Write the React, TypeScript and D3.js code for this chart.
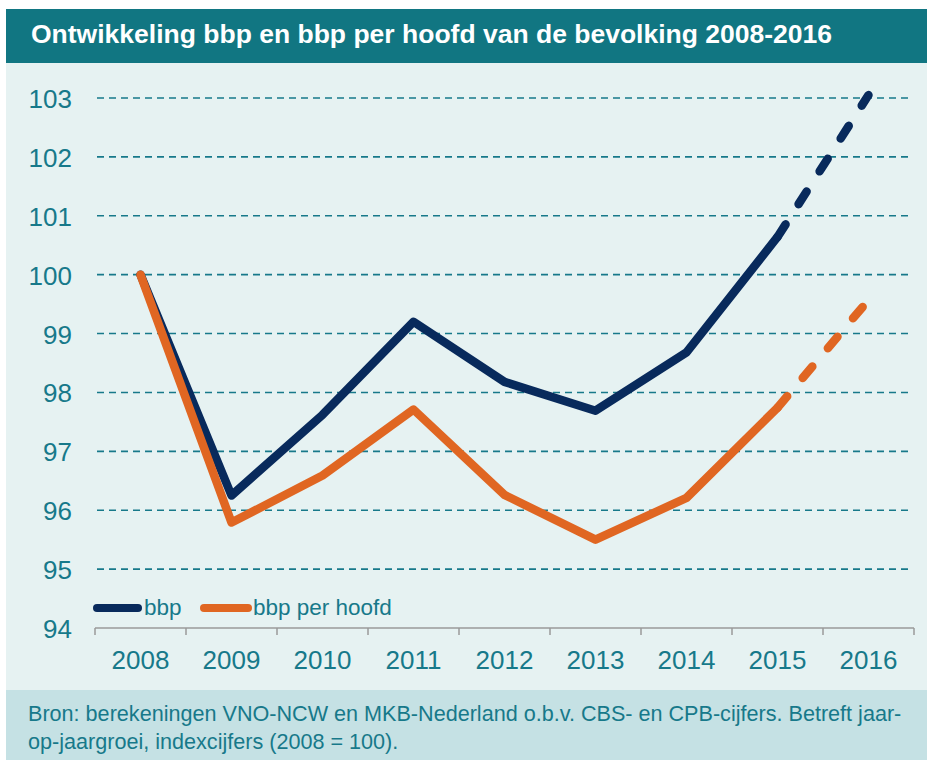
import React from "react";
import * as d3 from "d3";

const years = ["2008", "2009", "2010", "2011", "2012", "2013", "2014", "2015", "2016"];
const bbp = [100, 96.25, 97.62, 99.2, 98.18, 97.69, 98.68, 100.64, 103.05];
const bbpPerHoofd = [100, 95.79, 96.59, 97.71, 96.26, 95.5, 96.21, 97.74, 99.57];
const yTicks = [94, 95, 96, 97, 98, 99, 100, 101, 102, 103];
const solidUntil = "2015";

const W = 927;
const H = 760;
const margin = { top: 98, right: 13, bottom: 132, left: 95 };
const teal = "#17798a";
const navy = "#082a5c";
const orange = "#e06622";
const font = "Liberation Sans, Arial, sans-serif";

export default function App() {
  const x = d3.scaleBand().domain(years).range([margin.left, W - margin.right]);
  const y = d3.scaleLinear().domain([94, 103]).range([H - margin.bottom, margin.top]);
  const cx = (yr: string) => (x(yr) as number) + x.bandwidth() / 2;
  const line = d3
    .line<[string, number]>()
    .x((d) => cx(d[0]))
    .y((d) => y(d[1]));

  const cut = years.indexOf(solidUntil);
  const series = [
    { name: "bbp", values: bbp, color: navy },
    { name: "bbp per hoofd", values: bbpPerHoofd, color: orange },
  ];

  return (
    <svg width={W} height={H} style={{ position: "absolute", left: 0, top: 0 }}>
      <rect x={6} y={9} width={W - 6} height={54} fill="#117682" />
      <text x={31} y={43} fill="#fff" fontFamily={font} fontWeight="bold" fontSize={26.5}>
        Ontwikkeling bbp en bbp per hoofd van de bevolking 2008-2016
      </text>
      <rect x={6} y={63} width={W - 6} height={627} fill="#e6f2f2" />
      <rect x={6} y={690} width={W - 6} height={70} fill="#c5e1e4" />

      {yTicks.map((t) => (
        <g key={t}>
          {t > 94 && (
            <line
              x1={margin.left + 2}
              x2={W - margin.right - 2}
              y1={y(t)}
              y2={y(t)}
              stroke={teal}
              strokeWidth={1.6}
              strokeDasharray="7 5"
            />
          )}
          <text
            x={72}
            y={y(t) + 10}
            textAnchor="end"
            fill={teal}
            fontFamily={font}
            fontSize={26}
          >
            {t}
          </text>
        </g>
      ))}

      <line
        x1={margin.left}
        x2={W - margin.right}
        y1={y(94)}
        y2={y(94)}
        stroke="#9a9a9a"
        strokeWidth={1.5}
      />
      {years.map((yr) => (
        <line
          key={"t" + yr}
          x1={x(yr)}
          x2={x(yr)}
          y1={y(94)}
          y2={y(94) + 7}
          stroke="#9a9a9a"
          strokeWidth={1.5}
        />
      ))}
      <line
        x1={W - margin.right}
        x2={W - margin.right}
        y1={y(94)}
        y2={y(94) + 7}
        stroke="#9a9a9a"
        strokeWidth={1.5}
      />
      {years.map((yr) => (
        <text
          key={"l" + yr}
          x={cx(yr)}
          y={669}
          textAnchor="middle"
          fill={teal}
          fontFamily={font}
          fontSize={26}
        >
          {yr}
        </text>
      ))}

      {series.map((s) => {
        const pts = years.map((yr, i) => [yr, s.values[i]] as [string, number]);
        return (
          <g key={s.name}>
            <path
              d={line(pts.slice(0, cut + 1)) as string}
              fill="none"
              stroke={s.color}
              strokeWidth={8.5}
              strokeLinejoin="round"
              strokeLinecap="round"
            />
            <path
              d={line(pts.slice(cut)) as string}
              fill="none"
              stroke={s.color}
              strokeWidth={8.5}
              strokeLinecap="round"
              strokeDasharray="15 24"
            />
          </g>
        );
      })}

      <line x1={97} x2={138} y1={608} y2={608} stroke={navy} strokeWidth={8} strokeLinecap="round" />
      <text x={144} y={615} fill={teal} fontFamily={font} fontSize={22.5}>
        bbp
      </text>
      <line x1={204} x2={248} y1={608} y2={608} stroke={orange} strokeWidth={8} strokeLinecap="round" />
      <text x={253} y={615} fill={teal} fontFamily={font} fontSize={22.5}>
        bbp per hoofd
      </text>

      <text x={28} y={721} fill={teal} fontFamily={font} fontSize={21.6}>
        Bron: berekeningen VNO-NCW en MKB-Nederland o.b.v. CBS- en CPB-cijfers. Betreft jaar-
      </text>
      <text x={28} y={749} fill={teal} fontFamily={font} fontSize={21.6}>
        op-jaargroei, indexcijfers (2008 = 100).
      </text>
    </svg>
  );
}
